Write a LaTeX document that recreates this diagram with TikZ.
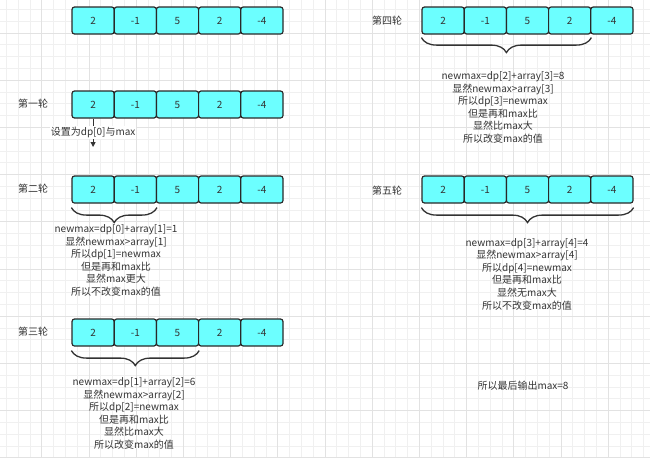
\documentclass[tikz,border=0pt]{standalone}
\usepackage{fontspec}
\setmainfont{Noto Sans CJK SC}
\usetikzlibrary{decorations.pathreplacing}
\usetikzlibrary{arrows.meta}
\definecolor{cellfill}{RGB}{108,255,255}
\definecolor{ink}{RGB}{51,51,51}
\definecolor{gridminor}{RGB}{240,240,240}
\definecolor{gridmajor}{RGB}{226,226,226}
\tikzset{
	cell/.style={draw=ink!80!black, fill=cellfill, line width=1.2pt, rounded corners=2.5pt, minimum width=42.2pt, minimum height=27pt, inner sep=0pt, text=ink, font=\fontsize{10}{12}\selectfont},
	roundlabel/.style={text=ink, font=\fontsize{10}{12}\selectfont},
	note/.style={text=ink, align=center, font=\fontsize{10}{12.6}\selectfont},
	curly/.style={decorate, decoration={brace, amplitude=15pt, mirror}, line width=1.3pt, draw=ink},
}

\begin{document}
\begin{tikzpicture}[x=1pt, y=-1pt]
		\useasboundingbox (0,0) rectangle (650,458);
		% background grid
		\foreach \gx in {0,...,54}
			\draw[gridminor, line width=0.6pt] (6.3+\gx*11.8,0) -- (6.3+\gx*11.8,458);
		\foreach \gy in {0,...,38}
			\draw[gridminor, line width=0.6pt] (0,9.3+\gy*11.8) -- (650,9.3+\gy*11.8);
		\foreach \gx in {0,...,13}
			\draw[gridmajor, line width=0.6pt] (41.7+\gx*47.2,0) -- (41.7+\gx*47.2,458);
		\foreach \gy in {0,...,9}
			\draw[gridmajor, line width=0.6pt] (0,32.9+\gy*47.2) -- (650,32.9+\gy*47.2);
		% the arrays
		\foreach \rname/\rx/\ry in {r0/72/7, r1/72/91, r2/72/176, r3/72/319, r4/422/7, r5/422/176}
			\foreach \v [count=\i from 0] in {2,-1,5,2,-4}
				\node[cell] (\rname-\i) at (\rx+21.1+42.2*\i,\ry+13.5) {\v};
		% round labels
		\node[roundlabel] (lab1) at (33,104) {第一轮};
		\node[roundlabel] (lab2) at (33,189) {第二轮};
		\node[roundlabel] (lab3) at (33,332) {第三轮};
		\node[roundlabel] (lab4) at (387,21) {第四轮};
		\node[roundlabel] (lab5) at (387,191) {第五轮};
		% first round
		\coordinate (settip) at (93.1,147);
		\draw[-{Triangle[length=5pt, width=5pt]}, line width=1pt, draw=ink] (r1-0.south) -- node[roundlabel, fill=white, inner sep=1pt] (setnote) {设置为dp[0]与max} (settip);
		% braces
		\draw[curly] ([yshift=-4pt]r2-0.south west) -- ([yshift=-4pt]r2-1.south east);
		\draw[curly] ([yshift=-4pt]r3-0.south west) -- ([yshift=-4pt]r3-2.south east);
		\draw[curly] ([yshift=-3pt]r4-0.south west) -- ([yshift=-3pt]r4-3.south east);
		\draw[curly] ([yshift=-4pt]r5-0.south west) -- ([yshift=-4pt]r5-4.south east);
		% notes
		\node[note] (note2) at (116,260.5) {newmax=dp[0]+array[1]=1\\显然newmax>array[1]\\所以dp[1]=newmax\\但是再和max比\\显然max更大\\所以不改变max的值};
		\node[note] (note3) at (134,413.5) {newmax=dp[1]+array[2]=6\\显然newmax>array[2]\\所以dp[2]=newmax\\但是再和max比\\显然比max大\\所以改变max的值};
		\node[note] (note4) at (503,107.5) {newmax=dp[2]+array[3]=8\\显然newmax>array[3]\\所以dp[3]=newmax\\但是再和max比\\显然比max大\\所以改变max的值};
		\node[note] (note5) at (527,274) {newmax=dp[3]+array[4]=4\\显然newmax>array[4]\\所以dp[4]=newmax\\但是再和max比\\显然无max大\\所以不改变max的值};
		\node[note] (final) at (523,386) {所以最后输出max=8};
	\end{tikzpicture}
\end{document}
